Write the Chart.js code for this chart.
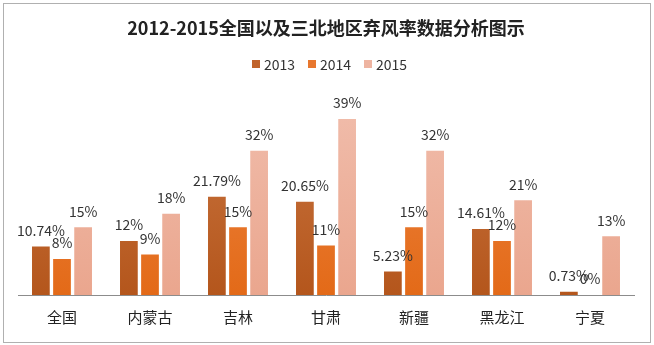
<!DOCTYPE html>
<html>
<head>
<meta charset="utf-8">
<script src="https://cdn.jsdelivr.net/npm/chart.js@4/dist/chart.umd.min.js"></script>
<style>
  html, body { margin: 0; padding: 0; background: #fff; }
  #wrap { width: 654px; height: 345px; }
</style>
</head>
<body>
<div id="wrap"><canvas id="curtailChart" width="654" height="345"></canvas></div>
<script>
// regions and curtailment rates (%)
const regions = ["全国", "内蒙古", "吉林", "甘肃", "新疆", "黑龙江", "宁夏"];
const years = ["2013", "2014", "2015"];
const rate2013 = [10.74, 12, 21.79, 20.65, 5.23, 14.61, 0.73];
const rate2014 = [8, 9, 15, 11, 15, 12, 0];
const rate2015 = [15, 18, 32, 39, 32, 21, 13];
// label text shown above each bar
const text2013 = ["10.74%", "12%", "21.79%", "20.65%", "5.23%", "14.61%", "0.73%"];
const text2014 = ["8%", "9%", "15%", "11%", "15%", "12%", "0%"];
const text2015 = ["15%", "18%", "32%", "39%", "32%", "21%", "13%"];

const CJK = "'Noto Sans CJK SC', 'Noto Sans', sans-serif";
const swatch = ["#c0632b", "#e8772e", "#eeb4a1"];

// vertical gradient for each series
function shade(top, bottom) {
    return function (context) {
        const area = context.chart.chartArea;
        if (!area) return bottom;
        const g = context.chart.ctx.createLinearGradient(0, area.top, 0, area.bottom);
        g.addColorStop(0, top);
        g.addColorStop(1, bottom);
        return g;
    };
}

// value labels above bars
const barLabels = {
    id: "barLabels",
    afterDatasetsDraw(chart) {
        const ctx = chart.ctx;
        const texts = [text2013, text2014, text2015];
        ctx.save();
        ctx.font = "14px " + CJK;
        ctx.fillStyle = "#333";
        ctx.textAlign = "center";
        ctx.textBaseline = "middle";
        chart.data.datasets.forEach((ds, i) => {
            chart.getDatasetMeta(i).data.forEach((bar, j) => {
                ctx.fillText(texts[i][j], bar.x, bar.y - 16);
            });
        });
        ctx.restore();
    }
};

// legend row centred under the title
const legendRow = {
    id: "legendRow",
    afterDraw(chart) {
        const ctx = chart.ctx;
        ctx.save();
        ctx.font = "14px " + CJK;
        ctx.textBaseline = "middle";
        let x = 252;
        const y = 64;
        chart.data.datasets.forEach((ds, i) => {
            ctx.fillStyle = swatch[i];
            ctx.fillRect(x, y - 4, 8, 8);
            ctx.fillStyle = "#333";
            ctx.fillText(ds.label, x + 12, y + 1);
            x += 56;
        });
        ctx.restore();
    }
};

// thin frame round the whole figure
const frame = {
    id: "frame",
    afterDraw(chart) {
        const ctx = chart.ctx;
        ctx.save();
        ctx.strokeStyle = "#b0b0b0";
        ctx.lineWidth = 1;
        ctx.strokeRect(3.5, 3.5, chart.width - 7, chart.height - 6);
        ctx.restore();
    }
};

const ctx = document.getElementById("curtailChart").getContext("2d");

const chart = new Chart(ctx, {
    type: "bar",
    data: {
        labels: regions,
        datasets: [
            { label: years[0], data: rate2013, backgroundColor: shade("#c9743f", "#b4561c") },
            { label: years[1], data: rate2014, backgroundColor: shade("#ec8340", "#e36a18") },
            { label: years[2], data: rate2015, backgroundColor: shade("#f0bba9", "#eaa68e") }
        ]
    },
    options: {
        responsive: false,
        animation: false,
        layout: { padding: { left: 18, right: 20, top: 0, bottom: 14 } },
        datasets: {
            bar: { categoryPercentage: 0.72, barPercentage: 0.84 }
        },
        plugins: {
            title: {
                display: true,
                text: "2012-2015全国以及三北地区弃风率数据分析图示",
                color: "#222",
                font: { family: CJK, size: 18, weight: "bold" },
                padding: { top: 17, bottom: 76 }
            },
            legend: { display: false },
            tooltip: { enabled: false }
        },
        scales: {
            x: {
                grid: { display: false },
                border: { display: true, color: "#8c8c8c", width: 1 },
                ticks: {
                    color: "#222",
                    font: { family: CJK, size: 15 },
                    padding: 5
                }
            },
            y: {
                display: false,
                min: 0,
                max: 40
            }
        }
    },
    plugins: [barLabels, legendRow, frame]
});
</script>
</body>
</html>
